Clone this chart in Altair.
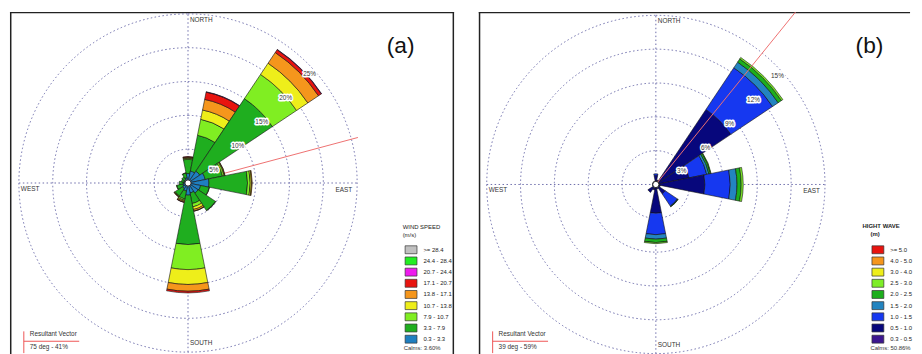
import math
import altair as alt
import pandas as pd

# ---------------- data ----------------
DIRS = ["N", "NNE", "NE", "ENE", "E", "ESE", "SE", "SSE",
        "S", "SSW", "SW", "WSW", "W", "WNW", "NW", "NNW"]
DIR_DEG = [0, 22.5, 45, 67.5, 90, 112.5, 135, 157.5,
           180, 202.5, 225, 247.5, 270, 292.5, 315, 337.5]
SECTOR = 22.5

# (a) wind speed classes (m/s), low -> high
WIND_BINS = ["0.3 - 3.3", "3.3 - 7.9", "7.9 - 10.7", "10.7 - 13.8", "13.8 - 17.1",
             "17.1 - 20.7", "20.7 - 24.4", "24.4 - 28.4", ">= 28.4"]
WIND_COLORS = ["#1f7fc0", "#1fae1f", "#80ee22", "#eeee1a", "#f5961c",
               "#e8140f", "#ee1aee", "#22ee22", "#c0c0c0"]
WIND_FREQ = {   # percent of time per class
    "N":   [1.4, 2.1, 0.15, 0.1, 0.1, 0.05],
    "NNE": [1.8, 5.4, 2.4, 1.4, 1.6, 1.1, 0.05],
    "NE":  [2.1, 12.9, 4.3, 2.0, 1.9, 0.5, 0.05],
    "ENE": [2.6, 2.6, 0.25, 0.1, 0.05],
    "E":   [3.1, 5.7, 0.4, 0.2, 0.1],
    "ESE": [1.9, 1.3, 0.05],
    "SE":  [1.8, 3.1, 0.05],
    "SSE": [1.5, 1.6, 0.5, 0.4, 0.25, 0.02],
    "S":   [1.8, 7.3, 3.7, 2.2, 1.0, 0.25],
    "SSW": [1.2, 1.2, 0.2, 0.15, 0.15, 0.02],
    "SW":  [1.0, 1.3, 0.1, 0.05, 0.05],
    "WSW": [0.8, 0.9, 0.05],
    "W":   [0.7, 0.6],
    "WNW": [0.6, 0.4],
    "NW":  [0.6, 0.5],
    "NNW": [0.8, 0.7, 0.05],
}
WIND_RINGS = [5, 10, 15, 20, 25]
WIND_RESULTANT = (75, 41)
WIND_VECTOR_LEN = 26.0
WIND_CALMS = "3.60"
WIND_TITLE = ["WIND SPEED", "(m/s)"]

# (b) wave height classes (m), low -> high
WAVE_BINS = ["0.3 - 0.5", "0.5 - 1.0", "1.0 - 1.5", "1.5 - 2.0", "2.0 - 2.5",
             "2.5 - 3.0", "3.0 - 4.0", "4.0 - 5.0", ">= 5.0"]
WAVE_COLORS = ["#3c1690", "#07077c", "#1638f0", "#2384c0", "#1cae1c",
               "#7eee28", "#eeee1a", "#f5961c", "#e8140f"]
WAVE_FREQ = {
    "N":   [0.2, 0.6, 0.15],
    "NNE": [0.2, 0.2],
    "NE":  [0.3, 7.7, 4.45, 0.6, 0.35, 0.15],
    "ENE": [0.3, 2.7, 1.6, 0.2, 0.15, 0.05],
    "E":   [0.3, 4.05, 2.25, 0.6, 0.37, 0.18],
    "ESE": [0.2, 0.2],
    "SE":  [0.2, 0.8, 1.3, 0.05, 0.03],
    "SSE": [0.2, 0.2],
    "S":   [0.3, 2.25, 1.9, 0.4, 0.3, 0.1],
    "SSW": [0.2, 0.3],
    "SW":  [0.2, 0.65],
    "WSW": [0.1, 0.2],
    "W":   [0.1, 0.2],
    "WNW": [0.1, 0.2],
    "NW":  [0.1, 0.2],
    "NNW": [0.1, 0.2],
}
WAVE_RINGS = [3, 6, 9, 12, 15]
WAVE_RESULTANT = (39, 59)
WAVE_VECTOR_LEN = 22.0
WAVE_CALMS = "50.86"
WAVE_TITLE = ["HIGHT WAVE", "(m)"]

CARDINALS = ["NORTH", "SOUTH", "WEST", "EAST"]

# ---------------- style ----------------
FONT = "Liberation Sans"
R_PX = 171.0
H = 346
TXT = "#333333"
RING_COLOR = "#6d6dab"


def rose_panel(freq, bins, colors, rings, title_lines, title_pos, title_weight,
               resultant, vec_len, calms, tag, width, cx, cy, legend_x,
               vector_on_top, right_border):
    rmax = rings[-1]
    ppu = R_PX / rmax
    xs = alt.Scale(domain=[-cx / ppu, (width - cx) / ppu], nice=False, zero=False)
    ys = alt.Scale(domain=[(cy - H) / ppu, cy / ppu], nice=False, zero=False)
    ts = alt.Scale(domain=[0, 360], range=[0, 2 * math.pi])
    rs = alt.Scale(type="linear", domain=[0, rmax], range=[0, R_PX], zero=True, nice=False)

    def X(f):
        return alt.X(f, type="quantitative", scale=xs, axis=None)

    def Y(f):
        return alt.Y(f, type="quantitative", scale=ys, axis=None)

    # petals (stacked class segments per direction)
    rows = []
    for d, deg in zip(DIRS, DIR_DEG):
        cum = 0.0
        for b, v in zip(bins, freq[d]):
            if v > 0:
                rows.append(dict(dir=d, cls=b, t0=deg - SECTOR / 2, t1=deg + SECTOR / 2,
                                 r0=cum, r1=cum + v, cx=0, cy=0))
                cum += v
    petals_df = pd.DataFrame(rows)

    legend = alt.Legend(
        orient="none", legendX=legend_x, legendY=236, title=None,
        labelFont=FONT, labelFontSize=6, labelColor="#222", labelOffset=8,
        symbolType="M-1.5,-1H1.5V1H-1.5Z", symbolSize=64,
        symbolStrokeColor="#333", symbolStrokeWidth=0.7, symbolOpacity=1,
        rowPadding=0.3, padding=0,
    )

    petals = alt.Chart(petals_df).mark_arc(stroke="#111", strokeWidth=0.6).encode(
        x=X("cx"), y=Y("cy"),
        theta=alt.Theta("t0:Q", scale=ts, stack=False),
        theta2="t1",
        radius=alt.Radius("r1:Q", scale=rs, stack=False),
        radius2="r0",
        fill=alt.Fill("cls:N", scale=alt.Scale(domain=bins[::-1], range=colors[::-1]),
                      legend=legend),
    )

    rings_df = pd.DataFrame({"r": rings, "t0": 0, "t1": 360, "cx": 0, "cy": 0})
    ring_layer = alt.Chart(rings_df).mark_arc(
        filled=False, stroke=RING_COLOR, strokeWidth=1, strokeDash=[1.5, 2.5], clip=True
    ).encode(
        x=X("cx"), y=Y("cy"),
        theta=alt.Theta("t0:Q", scale=ts, stack=False), theta2="t1",
        radius=alt.Radius("r:Q", scale=rs, stack=False),
    )

    cross_df = pd.DataFrame({"x0": [-rmax, 0], "x1": [rmax, 0],
                             "y0": [0, -rmax], "y1": [0, rmax]})
    cross = alt.Chart(cross_df).mark_rule(
        stroke=RING_COLOR, strokeWidth=1, strokeDash=[1.5, 2.5], clip=True
    ).encode(x=X("x0"), x2="x1", y=Y("y0"), y2="y1")

    ang = math.radians(resultant[0])
    vec_df = pd.DataFrame({"x0": [0], "y0": [0],
                           "x1": [vec_len * math.sin(ang)], "y1": [vec_len * math.cos(ang)]})
    vector = alt.Chart(vec_df).mark_rule(color="#ee7070", strokeWidth=1, clip=True).encode(
        x=X("x0"), x2="x1", y=Y("y0"), y2="y1")

    center = alt.Chart(pd.DataFrame({"cx": [0], "cy": [0]})).mark_point(
        shape="circle", filled=True, fill="white", stroke="#222", strokeWidth=1,
        size=40, opacity=1).encode(x=X("cx"), y=Y("cy"))

    s45 = math.sin(math.radians(45))
    lab_df = pd.DataFrame({"lx": [r * s45 for r in rings], "ly": [r * s45 for r in rings],
                           "label": [f"{r}%" for r in rings]})
    lab_halo = alt.Chart(lab_df).mark_text(
        font=FONT, fontSize=6.5, dx=2, dy=11, stroke="white", strokeWidth=3,
        strokeJoin="round", color="white").encode(x=X("lx"), y=Y("ly"), text="label:N")
    lab_text = alt.Chart(lab_df).mark_text(
        font=FONT, fontSize=6.5, dx=2, dy=11, color=TXT).encode(
        x=X("lx"), y=Y("ly"), text="label:N")

    card_pos = {"NORTH": (0, rmax, "left", 2, 6),
                "SOUTH": (0, -rmax, "left", 2, -9),
                "WEST": (-rmax, 0, "left", 2, 6),
                "EAST": (rmax, 0, "right", -5, 7)}
    card_layers = []
    for name in CARDINALS:
        px, py, al, ddx, ddy = card_pos[name]
        card_layers.append(
            alt.Chart(pd.DataFrame({"x": [px], "y": [py], "t": [name]})).mark_text(
                font=FONT, fontSize=6.5, color=TXT, align=al, dx=ddx, dy=ddy,
                baseline="middle").encode(x=X("x"), y=Y("y"), text="t:N"))

    one = pd.DataFrame({"k": [0]})
    frame = [
        alt.Chart(one).mark_rule(color="#222", strokeWidth=1.5).encode(
            x=alt.value(0.75), y=alt.value(0), y2=alt.value(H)),
        alt.Chart(one).mark_rule(color="#222", strokeWidth=1.5).encode(
            x=alt.value(0), x2=alt.value(width), y=alt.value(0.75)),
    ]
    if right_border:
        frame.append(alt.Chart(one).mark_rule(color="#222", strokeWidth=1.5).encode(
            x=alt.value(width - 0.75), y=alt.value(0), y2=alt.value(H)))

    tag_text = alt.Chart(pd.DataFrame({"t": [tag]})).mark_text(
        font=FONT, fontSize=23, color="#111", align="center", baseline="middle").encode(
        x=alt.value(395), y=alt.value(35), text="t:N")

    # legend title lines
    title_layers = []
    for line, (tx, ty) in zip(title_lines, title_pos):
        title_layers.append(
            alt.Chart(pd.DataFrame({"t": [line]})).mark_text(
                font=FONT, fontSize=6, fontWeight=title_weight, color="#222",
                align="left", baseline="middle").encode(
                x=alt.value(tx), y=alt.value(ty), text="t:N"))

    res_rules = [
        alt.Chart(one).mark_rule(color="#ee5555", strokeWidth=1).encode(
            x=alt.value(14), x2=alt.value(70), y=alt.value(333)),
        alt.Chart(one).mark_rule(color="#ee5555", strokeWidth=1).encode(
            x=alt.value(14), y=alt.value(323), y2=alt.value(345)),
    ]
    res_t1 = alt.Chart(pd.DataFrame({"t": ["Resultant Vector"]})).mark_text(
        font=FONT, fontSize=6.5, color=TXT, align="left", baseline="middle").encode(
        x=alt.value(20), y=alt.value(326), text="t:N")
    res_t2 = alt.Chart(pd.DataFrame({"t": [f"{resultant[0]} deg - {resultant[1]}%"]})).mark_text(
        font=FONT, fontSize=6.5, color=TXT, align="left", baseline="middle").encode(
        x=alt.value(20), y=alt.value(339), text="t:N")

    calm_text = alt.Chart(pd.DataFrame({"t": [f"Calms: {calms}%"]})).mark_text(
        font=FONT, fontSize=6, color=TXT, align="left", baseline="middle").encode(
        x=alt.value(legend_x - 3), y=alt.value(340), text="t:N")

    layers = frame + [ring_layer, cross]
    if not vector_on_top:
        layers.append(vector)
    layers.append(petals)
    if vector_on_top:
        layers.append(vector)
    layers += [center, lab_halo, lab_text] + card_layers + [tag_text] + title_layers + \
        res_rules + [res_t1, res_t2, calm_text]
    return alt.layer(*layers).properties(width=width, height=H)


panel_a = rose_panel(WIND_FREQ, WIND_BINS, WIND_COLORS, WIND_RINGS,
                     WIND_TITLE, [(397, 218), (397, 226)], "normal",
                     WIND_RESULTANT, WIND_VECTOR_LEN, WIND_CALMS, "(a)",
                     449, 180, 173, 401, False, True)
panel_b = rose_panel(WAVE_FREQ, WAVE_BINS, WAVE_COLORS, WAVE_RINGS,
                     WAVE_TITLE, [(388, 217), (396, 225)], "bold",
                     WAVE_RESULTANT, WAVE_VECTOR_LEN, WAVE_CALMS, "(b)",
                     436, 179, 174.5, 399, True, False)

chart = alt.hconcat(panel_a, panel_b, spacing=21).resolve_scale(
    x="independent", y="independent", fill="independent",
    radius="independent", theta="independent"
).resolve_legend(fill="independent").properties(padding=0).configure_view(
    stroke="transparent")

chart.save("out.html", embed_options={"renderer": "svg", "actions": False})
